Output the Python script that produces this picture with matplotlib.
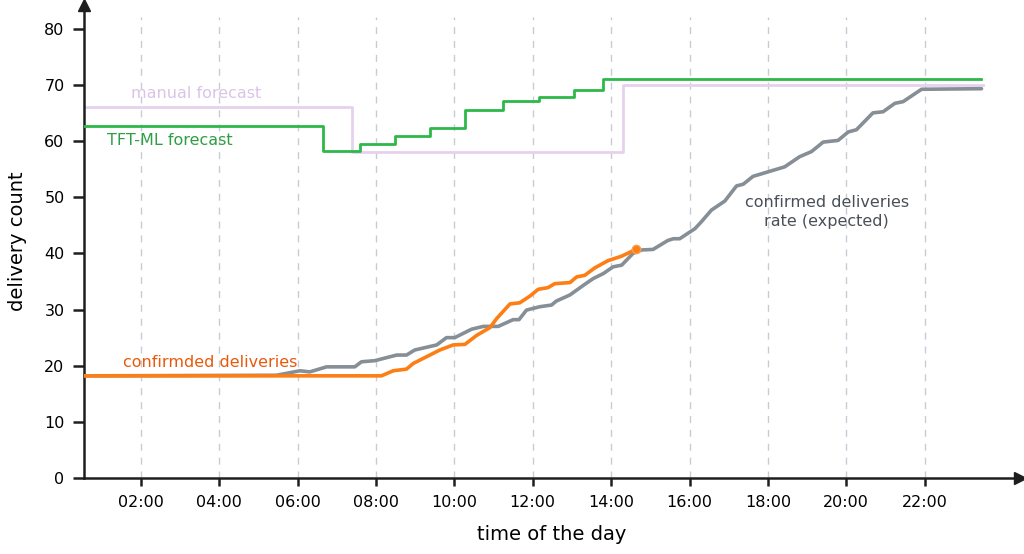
import numpy as np
import matplotlib.pyplot as plt

# hours of the day
x_ticks = [2, 4, 6, 8, 10, 12, 14, 16, 18, 20, 22]
x_labels = ['02:00', '04:00', '06:00', '08:00', '10:00', '12:00', '14:00',
            '16:00', '18:00', '20:00', '22:00']
y_ticks = [0, 10, 20, 30, 40, 50, 60, 70, 80]

tft_t = [0.55, 6.65, 7.6, 8.48, 9.38, 10.27, 11.24, 12.16, 13.05, 13.8, 23.45]
tft_v = [62.7, 58.2, 59.4, 60.9, 62.3, 65.5, 67.1, 67.9, 69.0, 71.0, 71.0]

manual_t = [0.55, 7.4, 14.3, 23.5]
manual_v = [66.0, 58.0, 70.0, 70.0]

expected_t = [0.55, 5.46, 6.06, 6.31, 6.74, 7.46, 7.63, 7.97, 8.53, 8.78, 8.99,
              9.55, 9.80, 10.01, 10.44, 10.74, 11.12, 11.5, 11.65, 11.84, 12.18,
              12.48, 12.6, 12.95, 13.29, 13.54, 13.8, 14.05, 14.27, 14.56, 14.78,
              15.07, 15.45, 15.59, 15.75, 16.14, 16.3, 16.56, 16.9, 17.2, 17.37,
              17.62, 18.05, 18.43, 18.81, 19.11, 19.41, 19.79, 20.05, 20.26,
              20.68, 20.94, 21.24, 21.45, 21.92, 23.45]
expected_v = [18.2, 18.3, 19.1, 18.9, 19.8, 19.8, 20.7, 20.9, 21.9, 21.9, 22.8,
              23.7, 25.0, 25.0, 26.5, 27.0, 27.0, 28.2, 28.2, 29.9, 30.5,
              30.8, 31.5, 32.6, 34.3, 35.5, 36.4, 37.6, 37.9, 40.0, 40.6,
              40.7, 42.3, 42.6, 42.6, 44.4, 45.6, 47.7, 49.3, 52.0, 52.3,
              53.7, 54.6, 55.4, 57.2, 58.1, 59.8, 60.1, 61.6, 62.0,
              65.0, 65.2, 66.7, 67.0, 69.2, 69.3]

confirmed_t = [0.55, 8.14, 8.44, 8.78, 8.95, 9.29, 9.63, 9.97, 10.27, 10.57,
               10.91, 11.08, 11.42, 11.67, 11.93, 12.14, 12.39, 12.56, 12.95,
               13.12, 13.33, 13.58, 13.92, 14.27, 14.63]
confirmed_v = [18.2, 18.2, 19.1, 19.4, 20.4, 21.6, 22.8, 23.7, 23.8, 25.4,
               26.8, 28.4, 31.0, 31.2, 32.4, 33.6, 33.9, 34.6, 34.8,
               35.8, 36.1, 37.4, 38.7, 39.5, 40.7]

plt.rcParams['font.family'] = ['DejaVu Sans']

fig = plt.figure(figsize=(10.24, 5.54), dpi=100)
ax = fig.add_axes([0.082, 0.137, 0.914, 0.854])

ax.set_xlim(0.55, 24.43)
ax.set_ylim(0, 84.2)

# dashed vertical grid
ax.vlines(x_ticks, 0, 82, colors='#c5ccd6', linestyles=(0, (5, 5)), linewidth=1, zorder=0)

ax.plot(manual_t, manual_v, drawstyle='steps-post', color='#e6d2ee', lw=2, zorder=2)
ax.plot(tft_t, tft_v, drawstyle='steps-post', color='#2db84a', lw=2, zorder=3)
ax.plot(expected_t, expected_v, color='#868e96', lw=2.6, solid_capstyle='round',
        solid_joinstyle='round', zorder=4)
ax.plot(confirmed_t, confirmed_v, color='#fd7e14', lw=2.6, solid_capstyle='round',
        solid_joinstyle='round', zorder=5)
ax.plot(confirmed_t[-1], confirmed_v[-1], 'o', color='#fd7e14', markersize=6,
        markeredgecolor='#f7a04a', zorder=6)

ax.text(3.4, 68.5, 'manual forecast', color='#dcc3e8', fontsize=11.5, ha='center', va='center')
ax.text(1.15, 60.1, 'TFT-ML forecast', color='#2f9e44', fontsize=11.5, ha='left', va='center')
ax.text(1.55, 20.6, 'confirmded deliveries', color='#e8590c', fontsize=11.5, ha='left', va='center')
ax.text(19.5, 47.4, 'confirmed deliveries\nrate (expected)', color='#495057', fontsize=11.5,
        ha='center', va='center', linespacing=1.3)

for s in ['top', 'right']:
    ax.spines[s].set_visible(False)
for s in ['left', 'bottom']:
    ax.spines[s].set_linewidth(1.8)
    ax.spines[s].set_color('#1e1e1e')

# arrow heads at the ends of both axes
ax.plot(1, 0, '>', color='#1e1e1e', markersize=8, transform=ax.transAxes, clip_on=False)
ax.plot(0, 1, '^', color='#1e1e1e', markersize=8, transform=ax.transAxes, clip_on=False)

ax.set_xticks(x_ticks)
ax.set_xticklabels(x_labels)
ax.set_yticks(y_ticks)
ax.tick_params(axis='x', length=6, width=1.8, color='#1e1e1e', labelsize=11.5, pad=6)
ax.tick_params(axis='y', length=8, width=1.8, color='#1e1e1e', labelsize=11.5, pad=6)

ax.set_xlabel('time of the day', fontsize=14, labelpad=11)
ax.set_ylabel('delivery count', fontsize=14, labelpad=12)

fig.savefig('out.png', dpi=100)
